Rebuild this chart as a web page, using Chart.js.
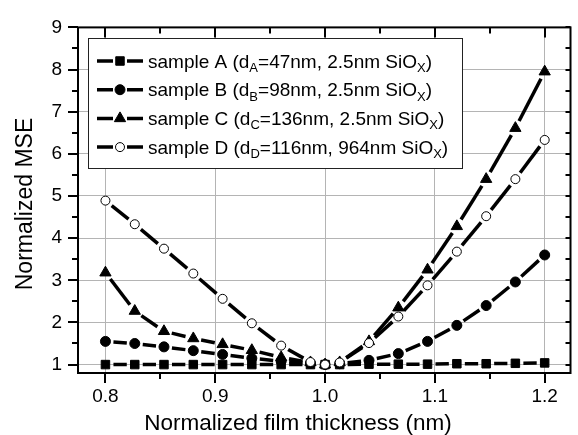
<!DOCTYPE html>
<html>
<head>
<meta charset="utf-8">
<style>
  html, body { margin: 0; padding: 0; background: #fff; }
</style>
<script src="https://cdn.jsdelivr.net/npm/chart.js@4.4.1/dist/chart.umd.min.js"></script>
</head>
<body>
<canvas id="chart" width="578" height="435"></canvas>
<script>
// datos
const thickness = [0.8, 0.8267, 0.8533, 0.88, 0.9067, 0.9333, 0.96, 0.9867, 1.0, 1.0133, 1.04, 1.0667, 1.0933, 1.12, 1.1467, 1.1733, 1.2];
const sampleA = [1.0, 1.0, 1.0, 1.0, 1.0, 1.0, 1.0, 1.0, 1.0, 1.0, 1.01, 1.01, 1.01, 1.02, 1.02, 1.03, 1.04];
const sampleB = [1.55, 1.50, 1.42, 1.33, 1.24, 1.15, 1.08, 1.03, 1.0, 1.02, 1.10, 1.26, 1.55, 1.93, 2.40, 2.96, 3.60];
const sampleC = [3.18, 2.27, 1.79, 1.62, 1.48, 1.34, 1.17, 1.05, 1.0, 1.05, 1.55, 2.35, 3.25, 4.28, 5.40, 6.61, 7.95];
const sampleD = [4.89, 4.33, 3.75, 3.16, 2.56, 1.98, 1.45, 1.06, 1.0, 1.05, 1.51, 2.14, 2.88, 3.68, 4.52, 5.40, 6.33];

const sampleNames = ['A', 'B', 'C', 'D'];
const layerThick = ['47', '98', '136', '116'];
const oxideThick = ['2.5', '2.5', '2.5', '964'];

const xTicks = [0.8, 0.9, 1.0, 1.1, 1.2];
const xMinorTicks = [0.85, 0.95, 1.05, 1.15];
const yTicks = [1, 2, 3, 4, 5, 6, 7, 8, 9];
const yMinorTicks = [1.5, 2.5, 3.5, 4.5, 5.5, 6.5, 7.5, 8.5];

const FONT = "'Liberation Sans', Arial, sans-serif";
const GAP = 8;

Chart.defaults.color = '#000';
Chart.defaults.font.family = FONT;

// linea con hueco alrededor de cada simbolo (estilo Origin)
const gapSegment = {
    borderDash: (ctx) => {
        const len = Math.hypot(ctx.p1.x - ctx.p0.x, ctx.p1.y - ctx.p0.y);
        const tail = 60 + ctx.p0DataIndex * 0.01;
        if (len <= 2 * GAP) return [0, len + tail];
        return [0, GAP, len - 2 * GAP, GAP + tail];
    }
};

function makeSet(values, style, radius, fill, order) {
    return {
        data: values.map((v, i) => ({ x: thickness[i], y: v })),
        borderColor: '#000',
        borderWidth: 3.5,
        pointStyle: style,
        pointRadius: radius,
        pointBackgroundColor: fill,
        pointBorderColor: '#000',
        pointBorderWidth: 1,
        segment: gapSegment,
        order: order
    };
}

const datasets = [
    makeSet(sampleA, 'rect', 6, '#000', 3),
    makeSet(sampleB, 'circle', 5, '#000', 2),
    makeSet(sampleC, 'triangle', 6.5, '#000', 1),
    makeSet(sampleD, 'circle', 4.5, '#fff', 0)
];

function drawMarker(ctx, ds, x, y) {
    const r = ds.pointRadius;
    ctx.save();
    ctx.fillStyle = ds.pointBackgroundColor;
    ctx.strokeStyle = '#000';
    ctx.lineWidth = 1;
    ctx.beginPath();
    if (ds.pointStyle === 'rect') {
        const s = Math.SQRT1_2 * r;
        ctx.rect(x - s, y - s, 2 * s, 2 * s);
    } else if (ds.pointStyle === 'triangle') {
        ctx.moveTo(x, y - r);
        ctx.lineTo(x + r * 0.866, y + r / 2);
        ctx.lineTo(x - r * 0.866, y + r / 2);
        ctx.closePath();
    } else {
        ctx.arc(x, y, r, 0, Math.PI * 2);
    }
    ctx.fill();
    ctx.stroke();
    ctx.restore();
}

const decor = {
    id: 'decor',
    afterDatasetsDraw(chart) {
        const ctx = chart.ctx;
        const { left, right, top, bottom } = chart.chartArea;
        const xs = chart.scales.x, ys = chart.scales.y;
        ctx.save();
        ctx.strokeStyle = '#000';
        ctx.lineWidth = 2;
        ctx.strokeRect(left, top, right - left, bottom - top);

        const tick = (x1, y1, x2, y2) => { ctx.moveTo(x1, y1); ctx.lineTo(x2, y2); };
        ctx.beginPath();
        yTicks.forEach(v => {
            const p = Math.round(ys.getPixelForValue(v));
            tick(left - 10, p, left, p);
            tick(right - 5, p, right, p);
        });
        yMinorTicks.forEach(v => {
            const p = Math.round(ys.getPixelForValue(v));
            tick(left - 6, p, left, p);
            tick(right - 5, p, right, p);
        });
        xTicks.forEach(v => {
            const p = Math.round(xs.getPixelForValue(v));
            tick(p, bottom, p, bottom + 10);
            tick(p, top, p, top + 10);
        });
        xMinorTicks.forEach(v => {
            const p = Math.round(xs.getPixelForValue(v));
            tick(p, bottom, p, bottom + 6);
            tick(p, top, p, top + 6);
        });
        ctx.stroke();

        // leyenda
        ctx.fillStyle = '#fff';
        ctx.fillRect(88, 38, 374, 130);
        ctx.strokeStyle = '#222';
        ctx.lineWidth = 1;
        ctx.strokeRect(88.5, 38.5, 374, 130);

        chart.data.datasets.forEach((ds, i) => {
            const y = 61 + i * 28.7;
            ctx.strokeStyle = '#000';
            ctx.lineWidth = 3.5;
            ctx.beginPath();
            ctx.moveTo(97, y); ctx.lineTo(113, y);
            ctx.moveTo(127, y); ctx.lineTo(143, y);
            ctx.stroke();
            drawMarker(ctx, ds, 120, y);

            const n = sampleNames[i];
            const parts = [
                ['sample ' + n + ' (d', false],
                [n, true],
                ['=' + layerThick[i] + 'nm, ' + oxideThick[i] + 'nm SiO', false],
                ['X', true],
                [')', false]
            ];
            let x = 148;
            const base = y + 6.5;
            ctx.fillStyle = '#000';
            ctx.textBaseline = 'alphabetic';
            ctx.textAlign = 'left';
            parts.forEach(([t, sub]) => {
                ctx.font = (sub ? '13px ' : '19px ') + FONT;
                ctx.fillText(t, x, sub ? base + 4.5 : base);
                x += ctx.measureText(t).width;
            });
        });

        // titulos de ejes
        ctx.fillStyle = '#000';
        ctx.font = '22.5px ' + FONT;
        ctx.textAlign = 'center';
        ctx.textBaseline = 'alphabetic';
        ctx.fillText('Normalized film thickness (nm)', 298, 430);
        ctx.save();
        ctx.translate(32, 204);
        ctx.rotate(-Math.PI / 2);
        ctx.font = '23px ' + FONT;
        ctx.fillText('Normalized MSE', 0, 0);
        ctx.restore();
        ctx.restore();
    }
};

new Chart(document.getElementById('chart'), {
    type: 'scatter',
    data: { datasets: datasets },
    options: {
        responsive: false,
        animation: false,
        devicePixelRatio: 1,
        showLine: true,
        layout: { padding: { top: 22, right: 1, left: 0, bottom: 0 } },
        plugins: { legend: { display: false }, tooltip: { enabled: false } },
        scales: {
            x: {
                type: 'linear',
                min: 0.775,
                max: 1.2235,
                afterBuildTicks: (scale) => { scale.ticks = xTicks.map(v => ({ value: v })); },
                afterFit: (scale) => { scale.height = 62; },
                grid: { color: '#b4b4b4', lineWidth: 1, drawTicks: false },
                border: { display: false },
                ticks: {
                    font: { size: 19, family: FONT },
                    padding: 12,
                    maxRotation: 0,
                    callback: (v) => Number(v).toFixed(1)
                }
            },
            y: {
                type: 'linear',
                min: 0.8,
                max: 9,
                afterBuildTicks: (scale) => { scale.ticks = yTicks.map(v => ({ value: v })); },
                afterFit: (scale) => { scale.width = 78; },
                grid: { color: '#b4b4b4', lineWidth: 1, drawTicks: false },
                border: { display: false },
                ticks: {
                    font: { size: 19, family: FONT },
                    padding: 16,
                    callback: (v) => String(v)
                }
            }
        }
    },
    plugins: [decor]
});
</script>
</body>
</html>
